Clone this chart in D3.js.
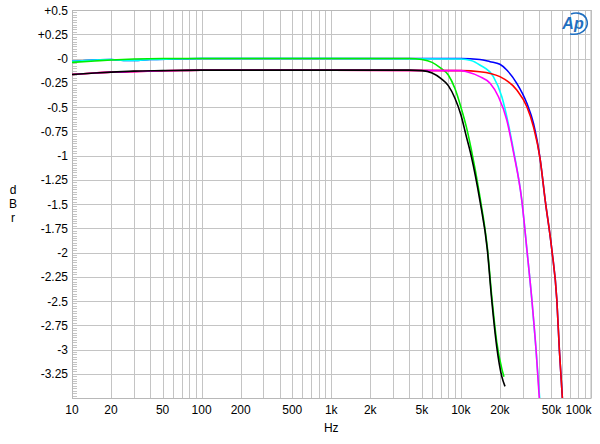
<!DOCTYPE html>
<html lang="en">
<head>
<meta charset="UTF-8">
<title>Frequency response</title>
<script src="https://d3js.org/d3.v7.min.js"></script>
<style>
  body { margin: 0; background: #fff; }
  svg { display: block; font-family: Arial, "Liberation Sans", sans-serif; }
</style>
</head>
<body>
<div id="chart"></div>
<script>
// tick labels
const xTicks = [10, 20, 50, 100, 200, 500, 1000, 2000, 5000, 10000, 20000, 50000, 100000];
const xTickLabels = ['10', '20', '50', '100', '200', '500', '1k', '2k', '5k', '10k', '20k', '50k', '100k'];
const yTicks = [0.5, 0.25, 0, -0.25, -0.5, -0.75, -1, -1.25, -1.5, -1.75, -2, -2.25, -2.5, -2.75, -3, -3.25];
const yTickLabels = ['+0.5', '+0.25', '-0', '-0.25', '-0.5', '-0.75', '-1', '-1.25', '-1.5', '-1.75', '-2', '-2.25', '-2.5', '-2.75', '-3', '-3.25'];

// series (Hz, dBr)
const blueHz = [10, 15, 20, 25, 30, 40, 60, 100, 1000, 10000, 14000, 16800, 20000, 22600, 27000, 32300, 36300, 40800, 44700, 50300, 55000, 57500, 61000];
const blueDb = [-0.03, -0.015, -0.01, -0.02, -0.02, -0.01, -0.005, 0, 0, 0, -0.01, -0.033, -0.06, -0.119, -0.256, -0.462, -0.668, -1.03, -1.46, -1.97, -2.49, -3.0, -3.55];
const cyanHz = [10, 15, 20, 25, 30, 40, 60, 100, 1000, 10000, 12000, 14000, 17800, 20700, 23200, 25500, 29500, 32300, 35300, 38000, 40800];
const cyanDb = [-0.03, -0.015, -0.01, -0.02, -0.02, -0.01, -0.005, 0, 0, -0.005, -0.02, -0.067, -0.187, -0.394, -0.668, -0.95, -1.46, -1.97, -2.49, -3.0, -3.55];
const greenHz = [10, 15, 20, 30, 50, 100, 1000, 4000, 5000, 6000, 7000, 8000, 9000, 10000, 11000, 12000, 14000, 16000, 17300, 18900, 20700, 21500];
const greenDb = [-0.04, -0.025, -0.015, -0.005, 0, 0, 0, 0, -0.01, -0.04, -0.1, -0.17, -0.31, -0.5, -0.7, -0.93, -1.42, -1.95, -2.45, -2.92, -3.2, -3.28];
const redHz = [10, 15, 20, 25, 30, 40, 60, 100, 1000, 10000, 14000, 20000, 27000, 32300, 36300, 40800, 44700, 50300, 55000, 57500, 61000];
const redDb = [-0.165, -0.15, -0.14, -0.14, -0.135, -0.13, -0.125, -0.12, -0.12, -0.125, -0.136, -0.187, -0.325, -0.497, -0.703, -1.03, -1.46, -1.97, -2.49, -3.0, -3.55];
const magentaHz = [10, 15, 20, 25, 30, 40, 60, 100, 1000, 10000, 11100, 14000, 16800, 19500, 22600, 25400, 29500, 32300, 35300, 38000, 40500];
const magentaDb = [-0.165, -0.15, -0.14, -0.14, -0.135, -0.13, -0.125, -0.12, -0.12, -0.125, -0.136, -0.187, -0.256, -0.394, -0.634, -0.96, -1.46, -1.97, -2.49, -3.0, -3.55];
const blackHz = [10, 15, 20, 30, 50, 100, 1000, 4000, 5000, 6000, 7000, 8000, 9000, 10000, 11000, 12000, 14000, 16000, 17300, 18900, 20700, 21900];
const blackDb = [-0.165, -0.15, -0.14, -0.13, -0.125, -0.12, -0.12, -0.12, -0.125, -0.15, -0.205, -0.28, -0.41, -0.58, -0.8, -1.0, -1.46, -1.97, -2.49, -2.97, -3.28, -3.38];

const series = [
    { color: '#0000ff', hz: blueHz, db: blueDb },
    { color: '#00ffff', hz: cyanHz, db: cyanDb },
    { color: '#00ee00', hz: greenHz, db: greenDb },
    { color: '#ff0000', hz: redHz, db: redDb },
    { color: '#ff00ff', hz: magentaHz, db: magentaDb },
    { color: '#000000', hz: blackHz, db: blackDb }
];

const W = 600, H = 444;
const plot = { left: 72, right: 590.5, top: 10, bottom: 398 };

const svg = d3.select('#chart').append('svg')
    .attr('width', W).attr('height', H);

const x = d3.scaleLog().domain([10, 100000]).range([plot.left, plot.right]);
const y = d3.scaleLinear().domain([-3.5, 0.5]).range([plot.bottom, plot.top]);

// grid
const minor = [];
for (let dec = 10; dec < 100000; dec *= 10) {
    for (let m = 1; m <= 9; m++) minor.push(dec * m);
}
minor.push(100000);

const grid = svg.append('g').attr('stroke', '#c4c4c4').attr('stroke-width', 1);
grid.selectAll('.vg').data(minor).enter().append('line')
    .attr('x1', d => Math.round(x(d)) + 0.5).attr('x2', d => Math.round(x(d)) + 0.5)
    .attr('y1', plot.top).attr('y2', plot.bottom);
grid.selectAll('.hg').data(yTicks.concat([-3.5])).enter().append('line')
    .attr('x1', plot.left).attr('x2', plot.right)
    .attr('y1', d => Math.round(y(d)) + 0.5).attr('y2', d => Math.round(y(d)) + 0.5);

// small ticks along left edge
const smallTicks = d3.range(-3.5, 0.5001, 0.025);
svg.append('g').attr('stroke', '#c4c4c4').selectAll('line').data(smallTicks).enter().append('line')
    .attr('x1', plot.left).attr('x2', plot.left + 5)
    .attr('y1', d => Math.round(y(d)) + 0.5).attr('y2', d => Math.round(y(d)) + 0.5);

svg.append('rect')
    .attr('x', plot.left + 0.5).attr('y', plot.top + 0.5)
    .attr('width', plot.right - plot.left).attr('height', plot.bottom - plot.top)
    .attr('fill', 'none').attr('stroke', '#b8b8b8');

// curves
svg.append('clipPath').attr('id', 'clip').append('rect')
    .attr('x', plot.left).attr('y', plot.top)
    .attr('width', plot.right - plot.left).attr('height', plot.bottom - plot.top);

const line = d3.line()
    .x(d => x(d[0]))
    .y(d => y(d[1]))
    .curve(d3.curveMonotoneX);

svg.append('g').attr('clip-path', 'url(#clip)')
    .selectAll('path').data(series).enter().append('path')
    .attr('d', s => line(s.hz.map((h, i) => [h, s.db[i]])))
    .attr('fill', 'none')
    .attr('stroke', s => s.color)
    .attr('stroke-width', 1.6);

// axis labels
svg.append('g').selectAll('text').data(yTicks).enter().append('text')
    .attr('x', 68).attr('y', d => y(d) + 4.5)
    .attr('text-anchor', 'end').attr('font-size', 12)
    .text((d, i) => yTickLabels[i]);

svg.append('g').selectAll('text').data(xTicks).enter().append('text')
    .attr('x', d => d === 100000 ? plot.right + 1 : x(d))
    .attr('y', 414)
    .attr('text-anchor', d => d === 100000 ? 'end' : 'middle')
    .attr('font-size', 12)
    .text((d, i) => xTickLabels[i]);

svg.append('text').attr('x', x(1000)).attr('y', 432)
    .attr('text-anchor', 'middle').attr('font-size', 12).text('Hz');

['d', 'B', 'r'].forEach((c, i) => {
    svg.append('text').attr('x', 13).attr('y', 194 + i * 14)
        .attr('text-anchor', 'middle').attr('font-size', 12).text(c);
});

// Ap logo
const logo = svg.append('g').attr('transform', 'translate(574, 24)');
logo.append('path')
    .attr('d', 'M -4 10 C 10 12, 16 2, 12 -6 C 9 -11, 2 -12, -3 -10')
    .attr('fill', 'none').attr('stroke', '#1f6fc0').attr('stroke-width', 1.6);
logo.append('text')
    .attr('x', -1).attr('y', 5).attr('text-anchor', 'middle')
    .attr('font-size', 16).attr('font-style', 'italic').attr('font-weight', 'bold')
    .attr('fill', '#1f6fc0').text('Ap');
</script>
</body>
</html>
